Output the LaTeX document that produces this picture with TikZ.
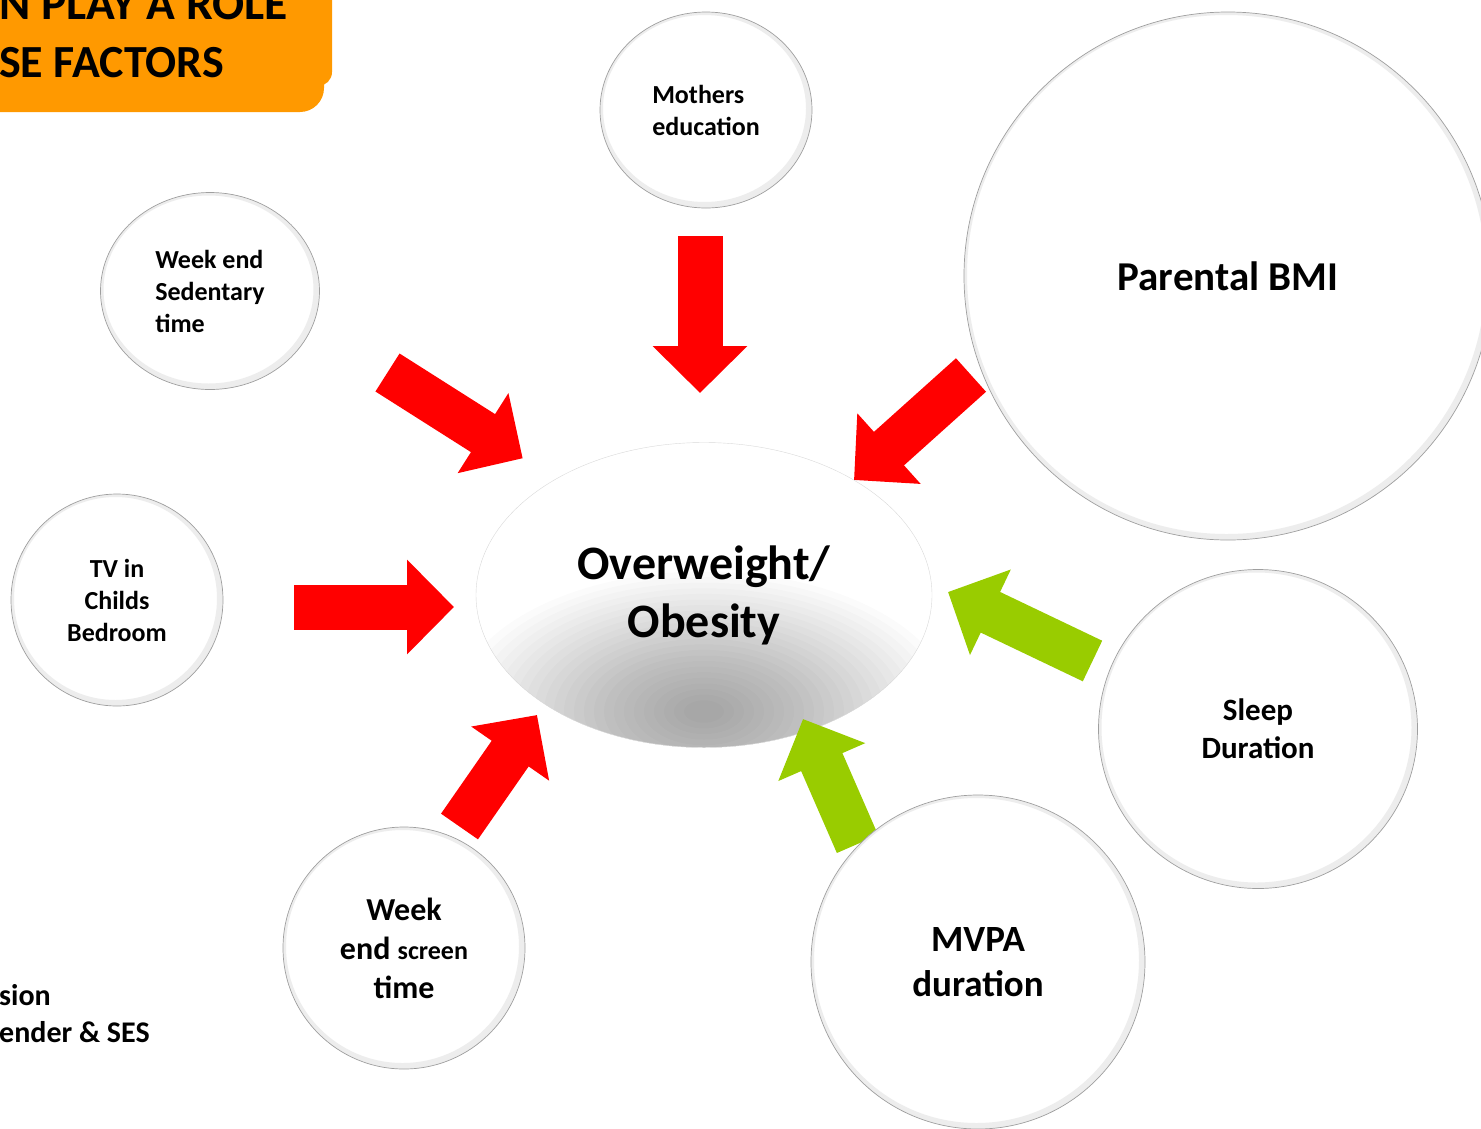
\documentclass[tikz,border=0pt]{standalone}
\usepackage{fontspec}
\setmainfont{Carlito}
\usetikzlibrary{arrows.meta}
\usetikzlibrary{shapes.geometric}
\usetikzlibrary{calc}
\definecolor{arrowred}{HTML}{FF0000}
\definecolor{arrowgreen}{HTML}{99CC00}
\definecolor{titleorange}{HTML}{FF9900}
\tikzset{
    bevel/.style={path picture={\draw[gray!14,line width=9pt] let \p1=($(path picture bounding box.north east)-(path picture bounding box.center)$) in ($(path picture bounding box.center)+(-1.5pt,1.5pt)$) ellipse [x radius=\x1, y radius=\y1];}},
    factor/.style={circle, fill=white, draw=gray!75, line width=0.7pt, inner sep=0pt, align=center, font=\bfseries, bevel},
    ovalfactor/.style={factor, ellipse},
    redarrow/.style={draw=arrowred, line width=45pt, -{Triangle[length=47pt,width=92pt]}},
    greenarrow/.style={redarrow, draw=arrowgreen},
}
\begin{document}
\begin{tikzpicture}[x=1pt,y=-1pt]
    \useasboundingbox (0,0) rectangle (1481,1128);
    \clip (0,0) rectangle (1481,1128);

    % title banner, cut at the page edge
    \fill[titleorange, rounded corners=14pt] (-60,-60) rectangle (332,86);
    \fill[titleorange, rounded corners=24pt] (-60,-60) rectangle (324,112);
    \node[anchor=base west, inner sep=0pt, font=\bfseries\fontsize{47.5}{56}\selectfont] (title1) at (-1,19) {N PLAY A ROLE};
    \node[anchor=base west, inner sep=0pt, font=\bfseries\fontsize{46}{56}\selectfont] (title2) at (-1,77) {SE FACTORS};

    \node[anchor=base west, inner sep=0pt, font=\bfseries\fontsize{30}{38}\selectfont] (note1) at (-1,1005) {sion};
    \node[anchor=base west, inner sep=0pt, font=\bfseries\fontsize{30}{38}\selectfont] (note2) at (-1,1042) {ender \& SES};

    % centre, darkened towards the bottom
    \node[ellipse, minimum width=456pt, minimum height=305pt, inner sep=0pt, fill=white, draw=gray!30, align=center,
          font=\bfseries\fontsize{48}{58}\selectfont,
          path picture={\foreach \k in {0,...,23}
              \fill[black, opacity=0.017] ($(path picture bounding box.south)+(0pt,36pt)$) ellipse [x radius=250pt-10pt*\k, y radius=140pt-5.6pt*\k];}]
          (obese) at (704,595) {Overweight/\\Obesity};

    \coordinate (momtail) at (700,236);      \coordinate (momtip) at (700,393);
    \coordinate (sedtail) at (387.5,372.5);  \coordinate (sedtip) at (522.7,458.3);
    \coordinate (bmitail) at (971,375);      \coordinate (bmitip) at (854,480);
    \coordinate (tvtail) at (294,607);       \coordinate (tvtip) at (454,607);
    \coordinate (scrtail) at (459.5,826.5);  \coordinate (scrtip) at (537,715);
    \coordinate (mvpatail) at (857.5,844);   \coordinate (mvpatip) at (803,719);
    \coordinate (sleeptail) at (1092.5,661); \coordinate (sleeptip) at (948,592);

    \draw[redarrow] (momtail) -- (momtip);
    \draw[redarrow] (sedtail) -- (sedtip);
    \draw[redarrow] (bmitail) -- (bmitip);
    \draw[redarrow] (tvtail) -- (tvtip);
    \draw[redarrow] (scrtail) -- (scrtip);
    \draw[greenarrow] (mvpatail) -- (mvpatip);
    \draw[greenarrow] (sleeptail) -- (sleeptip);

    % factors
    \node[ovalfactor, minimum width=212pt, minimum height=196pt, font=\bfseries\fontsize{26}{32}\selectfont, align=left] (mom) at (706,110) {Mothers\\education};
    \node[ovalfactor, minimum width=219pt, minimum height=197pt, font=\bfseries\fontsize{26}{32}\selectfont, align=left] (sed) at (210,291) {Week end\\Sedentary\\time};
    \node[factor, minimum size=528pt, font=\bfseries\fontsize{41}{50}\selectfont] (bmi) at (1228,276) {Parental BMI};
    \node[factor, minimum size=212pt, font=\bfseries\fontsize{26}{32}\selectfont] (tv) at (117,600) {TV in\\Childs\\Bedroom};
    \node[factor, minimum size=242pt, font=\bfseries\fontsize{32}{39}\selectfont] (scr) at (404,948) {Week\\end {\fontsize{26}{39}\selectfont screen}\\time};
    \node[factor, minimum size=334pt, font=\bfseries\fontsize{37}{45}\selectfont] (mvpa) at (978,962) {MVPA\\duration};
    \node[factor, minimum size=319pt, font=\bfseries\fontsize{31}{38}\selectfont] (sleep) at (1258,729) {Sleep\\Duration};
\end{tikzpicture}
\end{document}
